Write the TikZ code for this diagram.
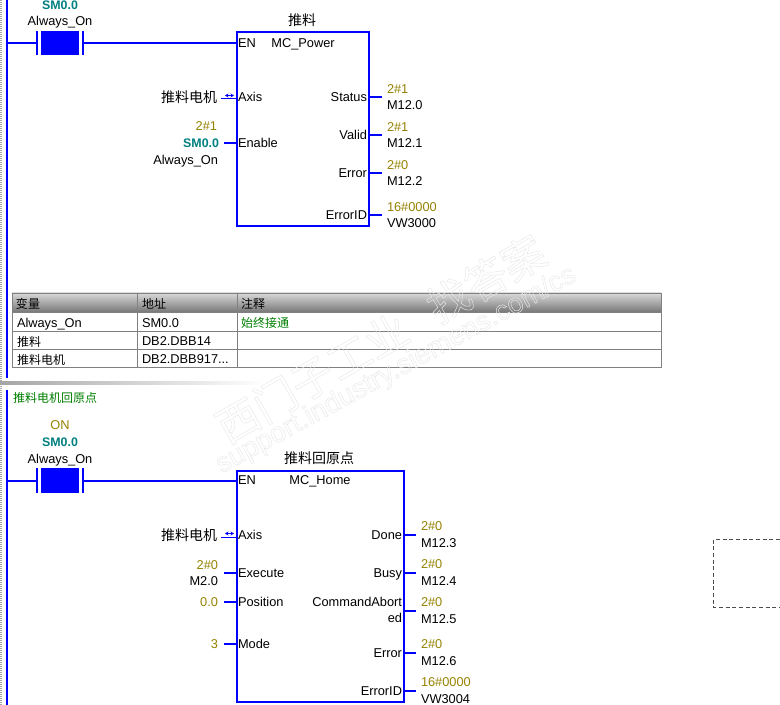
\documentclass[tikz,border=0pt]{standalone}
\usepackage{fontspec}
\usetikzlibrary{arrows.meta}
\setmainfont{Liberation Sans}
\newfontfamily\cjk{Noto Sans CJK SC}
\definecolor{rail}{RGB}{0,0,255}
\definecolor{olive}{RGB}{150,130,0}
\definecolor{tealx}{RGB}{0,128,128}
\definecolor{greenx}{RGB}{0,128,0}
\tikzset{
  x=0.75pt,y=-0.75pt,
  every node/.style={inner sep=0pt,outer sep=0pt,text height=7pt,text depth=0pt,font=\fontsize{9.6}{11}\selectfont},
  wire/.style={draw=rail,line width=1.5pt},
  thinwire/.style={draw=rail,line width=0.75pt},
  axisarrow/.style={draw=rail,fill=rail,line width=0.75pt,{Stealth[length=2.6pt,width=3pt]}-{Stealth[length=2.6pt,width=3pt]}},
  fb/.style={draw=rail,line width=1.5pt,fill=white,anchor=north west},
  plate/.style={fill=rail,minimum width=1.5pt,minimum height=18.5pt,text height=0pt},
  padfill/.style={fill=rail,minimum width=28.5pt,minimum height=18.2pt,text height=0pt},
  val/.style={text=olive},
  addr/.style={text=tealx,font=\fontsize{9.3}{11}\selectfont\bfseries},
  title/.style={text height=8.5pt,font=\fontsize{10.5}{12}\selectfont\cjk},
  cjktab/.style={text height=7.5pt,font=\fontsize{9}{11}\selectfont\cjk},
  tabline/.style={draw=black!50,line width=0.75pt},
}
\newcommand{\hollow}[1]{\special{pdf:code q 1 Tr 0.35 w 0.91 0.91 0.91 RG}#1\special{pdf:code Q}}
\begin{document}
\begin{tikzpicture}
\useasboundingbox (0,0) rectangle (780,705);
\fill[white] (0,0) rectangle (780,705);
% gutter and rails
\draw[black!35,line width=1.5pt,dash pattern=on 0.75pt off 0.75pt] (1,0) -- (1,705);
\draw[rail,line width=1.5pt] (6.5,0) -- (6.5,378);
\draw[rail,line width=1.5pt] (6.5,390) -- (6.5,705);
\shade[left color=black!35,right color=white] (0,381) rectangle (265,384);

% ---- network 1
\coordinate (r1) at (7,43);
\node[plate] (c1l) at (37,43) {};
\node[padfill] (c1m) at (60,43) {};
\node[plate] (c1r) at (83,43) {};
\node[addr] (c1a) at (60,5) {SM0.0};
\node (c1s) at (60,21) {Always\_On};
\node[fb,minimum width=99pt,minimum height=145.5pt] (b1) at (236.5,32.5) {};
\coordinate (b1en) at (b1.west |- 0,43);
\draw[wire] (r1) -- (c1l.west);
\draw[wire] (c1r.east) -- (b1en);
\node[title] (b1t) at (302,20) {推料};
\node[anchor=west] (b1p0) at (238,43) {EN};
\node (b1n) at (303,43) {MC\_Power};
\node[anchor=west] (b1p1) at (238,97) {Axis};
\node[anchor=west] (b1p2) at (238,143) {Enable};
\node[anchor=east] (b1o1) at (367,97) {Status};
\node[anchor=east] (b1o2) at (367,135) {Valid};
\node[anchor=east] (b1o3) at (367,173) {Error};
\node[anchor=east] (b1o4) at (367,215) {ErrorID};
\node[title,anchor=east] (b1ax) at (217,97) {推料电机};
\coordinate (b1axa) at (221,99);
\draw[thinwire] (b1axa) -- (b1.west |- b1axa);
\draw[axisarrow] (225,95.5) -- (234,95.5);
\node[val,anchor=east] (b1v) at (217,126) {2\#1};
\node[addr,anchor=east] (b1e) at (219,143) {SM0.0};
\node[anchor=east] (b1es) at (218,160) {Always\_On};
\draw[wire] (b1e.east) ++(5,0) coordinate (b1ec) -- (b1.west |- b1ec);
% outputs block 1
\foreach \y/\v/\m/\n in {97/2\#1/M12.0/1,135/2\#1/M12.1/2,173/2\#0/M12.2/3,215/16\#0000/VW3000/4}{
  \coordinate (b1q\n) at (382,\y);
  \draw[wire] (b1.east |- b1q\n) -- (b1q\n);
  \node[val,anchor=west] (b1qv\n) at (387,\y-8.5) {\v};
  \node[anchor=west] (b1qm\n) at (387,\y+8) {\m};
}

% ---- table
\shade[top color=black!15,bottom color=black!55] (12,293) rectangle (661,313);
\draw[tabline] (12.5,293.5) rectangle (661,367);
\foreach \y in {313,331,349}{\draw[tabline] (12.5,\y) -- (661,\y);}
\foreach \x in {137.5,237.5}{\draw[tabline] (\x,293.5) -- (\x,367);}
\node[cjktab,anchor=west] (th1) at (16,304) {变量};
\node[cjktab,anchor=west] (th2) at (142,304) {地址};
\node[cjktab,anchor=west] (th3) at (241,304) {注释};
\node[anchor=west] (t11) at (17,323) {Always\_On};
\node[anchor=west] (t12) at (142,323) {SM0.0};
\node[cjktab,anchor=west,text=greenx] (t13) at (241,323) {始终接通};
\node[cjktab,anchor=west] (t21) at (17,341) {推料};
\node[anchor=west] (t22) at (142,341) {DB2.DBB14};
\node[cjktab,anchor=west] (t31) at (17,359) {推料电机};
\node[anchor=west] (t32) at (142,359) {DB2.DBB917...};

% ---- network 2
\node[cjktab,anchor=west,text=greenx] (n2t) at (13,397) {推料电机回原点};
\coordinate (r2) at (7,480);
\node[plate] (c2l) at (37,480.5) {};
\node[padfill] (c2m) at (60,480.5) {};
\node[plate] (c2r) at (83,480.5) {};
\node[val] (c2v) at (60,425) {ON};
\node[addr] (c2a) at (60,442) {SM0.0};
\node (c2s) at (60,459) {Always\_On};
\node[fb,minimum width=125.25pt,minimum height=173.75pt] (b2) at (236.5,470.5) {};
\coordinate (b2en) at (b2.west |- 0,480.5);
\draw[wire] (r2 |- b2en) -- (c2l.west);
\draw[wire] (c2r.east) -- (b2en);
\node[title] (b2t) at (319,458) {推料回原点};
\node[anchor=west] (b2p0) at (238,480) {EN};
\node (b2n) at (320,480) {MC\_Home};
\node[title,anchor=east] (b2ax) at (217,535) {推料电机};
\node[anchor=west] (b2p1) at (238,535) {Axis};
\coordinate (b2axa) at (221,537);
\draw[thinwire] (b2axa) -- (b2.west |- b2axa);
\draw[axisarrow] (225,533.5) -- (234,533.5);
\node[val,anchor=east] (b2i1v) at (218,565) {2\#0};
\node[anchor=east] (b2i1m) at (218,581) {M2.0};
\node[val,anchor=east] (b2i2v) at (218,602) {0.0};
\node[val,anchor=east] (b2i3v) at (218,644) {3};
\node[anchor=west] (b2p2) at (238,573) {Execute};
\node[anchor=west] (b2p3) at (238,602) {Position};
\node[anchor=west] (b2p4) at (238,644) {Mode};
\foreach \y/\n in {573/1,602/2,644/3}{
  \coordinate (b2ic\n) at (224,\y);
  \draw[wire] (b2ic\n) -- (b2.west |- b2ic\n);
}
\node[anchor=east] (b2o1) at (402,535) {Done};
\node[anchor=east] (b2o2) at (402,573) {Busy};
\node[anchor=east] (b2o3) at (402,602) {CommandAbort};
\node[anchor=east] (b2o3b) at (402,618) {ed};
\node[anchor=east] (b2o4) at (402,653) {Error};
\node[anchor=east] (b2o5) at (402,691) {ErrorID};
\foreach \y/\v/\m/\n in {535/2\#0/M12.3/1,573/2\#0/M12.4/2,611/2\#0/M12.5/3,653/2\#0/M12.6/4,691/16\#0000/VW3004/5}{
  \coordinate (b2q\n) at (416,\y);
  \draw[wire] (b2.east |- b2q\n) -- (b2q\n);
  \node[val,anchor=west] (b2qv\n) at (421,\y-9) {\v};
  \node[anchor=west] (b2qm\n) at (421,\y+8) {\m};
}
% dashed box
\draw[black!70,line width=0.75pt,densely dashed] (780,539.5) -- (713.5,539.5) -- (713.5,607.5) -- (780,607.5);
% watermark
\node[rotate=29.7,anchor=center,text height=26pt] (wm1) at (380,338) {\fontsize{32}{36}\selectfont\cjk\hollow{西门子工业\hspace{22pt}找答案}};
\node[rotate=28.5,anchor=center,text height=15pt] (wm2) at (395,368) {\fontsize{21}{24}\selectfont\hollow{support.industry.siemens.com/cs}};
\end{tikzpicture}
\end{document}
